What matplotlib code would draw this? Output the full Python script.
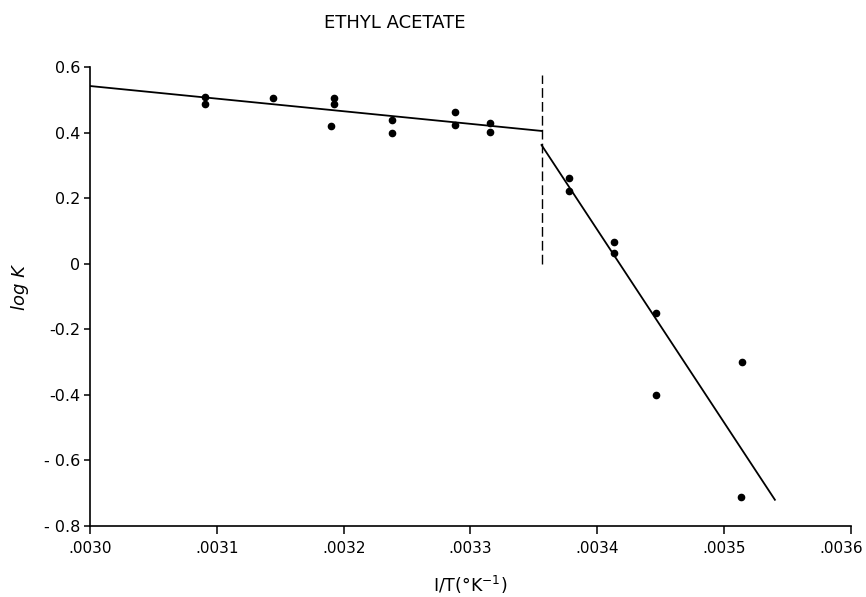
import numpy as np
import matplotlib
matplotlib.use('Agg')
import matplotlib.pyplot as plt
import matplotlib.transforms as mtransforms

# 测得的数据点 (1/T, log K)
inv_t = [0.003091, 0.003091, 0.003144, 0.003192, 0.003192, 0.003190,
         0.003238, 0.003238, 0.003288, 0.003288, 0.003315, 0.003315,
         0.003378, 0.003378, 0.003413, 0.003413, 0.003446, 0.003446,
         0.003514, 0.003513]
log_k = [0.509, 0.486, 0.506, 0.506, 0.486, 0.420,
         0.438, 0.400, 0.462, 0.422, 0.428, 0.402,
         0.261, 0.222, 0.065, 0.032, -0.151, -0.400,
         -0.301, -0.711]

# 两段拟合直线
fit_hi_x = [0.00300, 0.003356]
fit_hi_y = [0.542, 0.405]
fit_lo_x = [0.003356, 0.00354]
fit_lo_y = [0.362, -0.72]

# 转折温度处的虚线
break_x = 0.003356
break_y = [0.0, 0.576]

x_ticks = [0.0030, 0.0031, 0.0032, 0.0033, 0.0034, 0.0035, 0.0036]
x_labels = ['.0030', '.0031', '.0032', '.0033', '.0034', '.0035', '.0036']
y_ticks = [0.6, 0.4, 0.2, 0, -0.2, -0.4, -0.6, -0.8]
y_labels = ['0.6', '0.4', '0.2', '0', '-0.2', '-0.4', '- 0.6', '- 0.8']

plt.rcParams['font.family'] = ['DejaVu Sans']
fig = plt.figure(figsize=(8.66, 5.97), dpi=100)
ax = fig.add_axes([90 / 866, 1 - 526 / 597, (851 - 90) / 866, (526 - 67) / 597])

ax.plot(fit_hi_x, fit_hi_y, color='black', lw=1.3)
ax.plot(fit_lo_x, fit_lo_y, color='black', lw=1.3)
ax.plot([break_x, break_x], break_y, color='black', lw=1.0, dashes=(7, 3))
ax.plot(inv_t, log_k, 'o', color='black', ms=4.5, mec='black')

ax.set_xlim(0.0030, 0.0036)
ax.set_ylim(-0.8, 0.6)
ax.set_xticks(x_ticks)
ax.set_xticklabels(x_labels)
ax.set_yticks(y_ticks)
ax.set_yticklabels(y_labels)

for s in ['top', 'right']:
    ax.spines[s].set_visible(False)
for s in ['left', 'bottom']:
    ax.spines[s].set_linewidth(1.2)

ax.tick_params(axis='x', direction='out', length=6, width=1.1, labelsize=11, pad=5)
ax.tick_params(axis='y', direction='out', length=4, width=1.1, labelsize=11.5, pad=3)

# 最右边的刻度标签往左挪一点，免得被裁掉
last = ax.get_xticklabels()[-1]
last.set_transform(last.get_transform() + mtransforms.ScaledTranslation(-10 / 100, 0, fig.dpi_scale_trans))

fig.text(395 / 866, 1 - 23 / 597, 'ETHYL ACETATE', ha='center', va='center', fontsize=13)
fig.text(470 / 866, 1 - 585 / 597, 'I/T(°K$^{-1}$)', ha='center', va='center', fontsize=12.5)
fig.text(20 / 866, 1 - 288 / 597, 'log K', ha='center', va='center', fontsize=13,
         rotation=90, fontstyle='italic')

fig.savefig('out.png', dpi=100)
